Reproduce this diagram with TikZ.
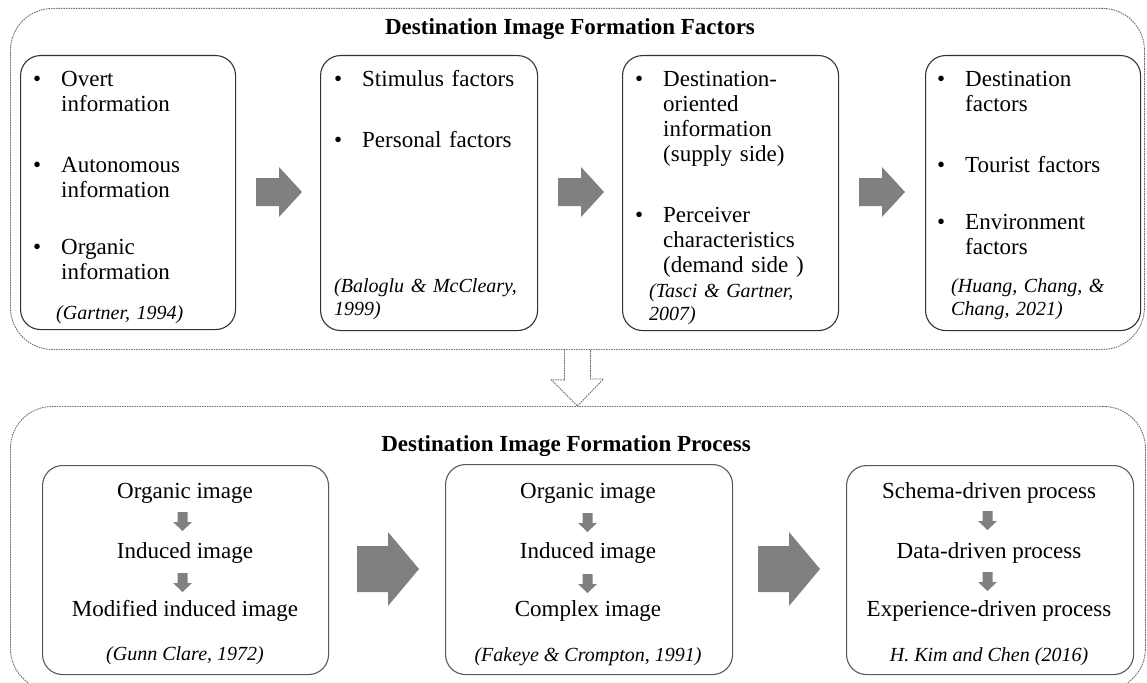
\documentclass[tikz,border=0pt]{standalone}
\usepackage{fontspec}
\setmainfont{Liberation Serif}
\definecolor{blockgray}{RGB}{128,128,128}
\definecolor{framegray}{RGB}{110,110,110}
\newcommand\bul{\llap{\makebox[28pt][l]{\textbullet}}}
\begin{document}
\begin{tikzpicture}[x=1pt,y=-1pt,
  outerbox/.style={draw=framegray, line width=0.9pt, dash pattern=on 1.6pt off 0.9pt,
    rounded corners=42pt, inner sep=0pt, anchor=north west},
  innerbox/.style={draw=black!80, line width=1.1pt, rounded corners=20pt,
    inner sep=0pt, anchor=north west},
  lowerbox/.style={innerbox, draw=black!65},
  heading/.style={font=\fontsize{23}{25}\selectfont\bfseries, inner sep=0pt, anchor=base},
  item/.style={font=\fontsize{23}{25}\selectfont, inner sep=0pt, anchor=base west,
    text width=200pt, align=left},
  cite/.style={font=\fontsize{20}{23}\selectfont\itshape, inner sep=0pt, anchor=base west,
    text width=210pt, align=left},
  step text/.style={font=\fontsize{23}{25}\selectfont, inner sep=0pt, anchor=base},
  step cite/.style={font=\fontsize{20}{23}\selectfont\itshape, inner sep=0pt, anchor=base},
  hollowarrow/.style={draw=framegray, line width=0.9pt, dash pattern=on 1.6pt off 0.9pt},
  rblock/.pic={\fill[blockgray] (0,-14) -- (23,-14) -- (23,-25) -- (46,0) -- (23,25)
    -- (23,14) -- (0,14) -- cycle;},
  bigblock/.pic={\fill[blockgray] (0,-23) -- (31,-23) -- (31,-37) -- (62,0) -- (31,37)
    -- (31,23) -- (0,23) -- cycle;},
  dblock/.pic={\fill[blockgray] (-5,0) -- (5,0) -- (5,10) -- (9.5,10) -- (0,19)
    -- (-9.5,10) -- (-5,10) -- cycle;}
]
\useasboundingbox (0,0) rectangle (1147,682);

% ---------- Formation factors ----------
\node[outerbox, minimum width=1134pt, minimum height=341pt] (topouter) at (10,8) {};
\node[heading] (toptitle) at (570,35) {Destination Image Formation Factors};

\node[innerbox, minimum width=215pt, minimum height=274pt] (f1) at (20,55) {};
\node[innerbox, minimum width=217pt, minimum height=275pt] (f2) at (320,55) {};
\node[innerbox, minimum width=216pt, minimum height=275pt] (f3) at (622,55) {};
\node[innerbox, minimum width=215pt, minimum height=275pt] (f4) at (925,55) {};

% box 1
\node[item] (f1a) at (61,87)  {\bul Overt\\information};
\node[item] (f1b) at (61,172) {\bul Autonomous\\information};
\node[item] (f1c) at (61,254) {\bul Organic\\information};
\node[cite] (f1r) at (56,319) {(Gartner, 1994)};

% box 2
\node[item] (f2a) at (362,87)  {\bul Stimulus factors};
\node[item] (f2b) at (362,147) {\bul Personal factors};
\node[cite] (f2r) at (334,292) {(Baloglu \& McCleary,\\1999)};

% box 3
\node[item] (f3a) at (663,87)  {\bul Destination-\\oriented\\information\\(supply side)};
\node[item] (f3b) at (663,222) {\bul Perceiver\\characteristics\\(demand side )};
\node[cite] (f3r) at (649,297) {(Tasci \& Gartner,\\2007)};

% box 4
\node[item] (f4a) at (965,87)  {\bul Destination\\factors};
\node[item] (f4b) at (965,172) {\bul Tourist factors};
\node[item] (f4c) at (965,229) {\bul Environment\\factors};
\node[cite] (f4r) at (951,292) {(Huang, Chang, \&\\Chang, 2021)};

\pic at (256,192) {rblock};
\pic at (558,192) {rblock};
\pic at (859,192) {rblock};

% ---------- Formation process ----------
\node[outerbox, minimum width=1135pt, minimum height=284pt] (botouter) at (10,406) {};
\node[heading] (bottitle) at (566,451) {Destination Image Formation Process};

\node[lowerbox, minimum width=286pt, minimum height=209pt] (p1) at (42,465) {};
\node[lowerbox, minimum width=287pt, minimum height=210pt] (p2) at (445,464) {};
\node[lowerbox, minimum width=287pt, minimum height=209pt] (p3) at (846,465) {};

\node[step text] (p1a) at (185,498) {Organic image};
\node[step text] (p1b) at (185,558) {Induced image};
\node[step text] (p1c) at (185,616) {Modified induced image};
\node[step cite] (p1r) at (185,660) {(Gunn Clare, 1972)};
\pic at (182.5,512) {dblock};
\pic at (182.5,573) {dblock};

\node[step text] (p2a) at (588,498) {Organic image};
\node[step text] (p2b) at (588,558) {Induced image};
\node[step text] (p2c) at (588,616) {Complex image};
\node[step cite] (p2r) at (588,661) {(Fakeye \& Crompton, 1991)};
\pic at (587.5,513) {dblock};
\pic at (587.5,574) {dblock};

\node[step text] (p3a) at (989,498) {Schema-driven process};
\node[step text] (p3b) at (989,558) {Data-driven process};
\node[step text] (p3c) at (989,616) {Experience-driven process};
\node[step cite] (p3r) at (989,661) {H. Kim and Chen (2016)};
\pic at (987.5,511) {dblock};
\pic at (987.5,572) {dblock};

\pic at (357,569) {bigblock};
\pic at (758,569) {bigblock};

% hollow arrow from factors to process
\draw[hollowarrow] ([xshift=-13pt]topouter.south) -- ++(0,30) -- ++(-13,0)
  -- (topouter.south |- botouter.north) -- ++(26,-27) -- ++(-13,0) -- ++(0,-30);
\end{tikzpicture}
\end{document}
